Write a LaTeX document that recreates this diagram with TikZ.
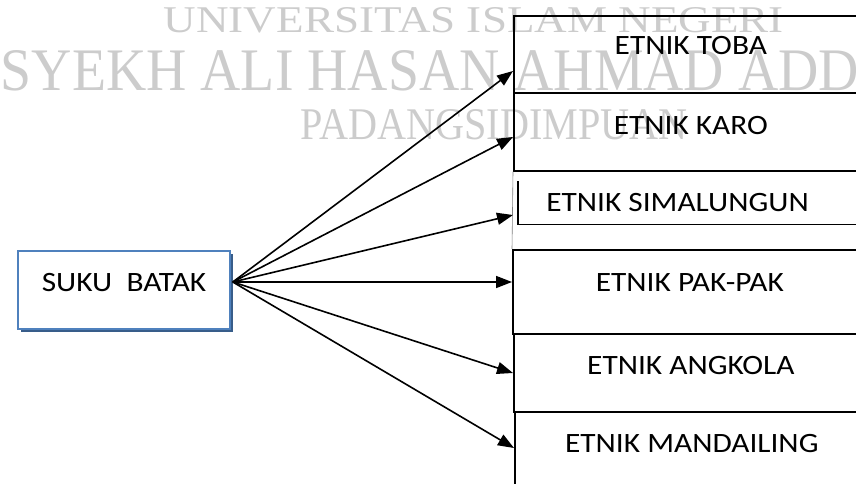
\documentclass[tikz,border=0pt]{standalone}
\usepackage{fontspec}
\setmainfont{Carlito}[FakeStretch=1.12]
\newfontfamily\wmfont{Liberation Serif}
\usepackage{tikz}
\usetikzlibrary{arrows.meta,positioning,shadows,calc}

\definecolor{boxblue}{RGB}{79,129,189}
\definecolor{shadeblue}{RGB}{56,93,138}
\definecolor{markgray}{RGB}{204,204,204}

\begin{document}
\begin{tikzpicture}[x=1pt,y=-1pt,->,>={Triangle[length=16pt,width=12pt]},line width=1.6pt,
                main node/.style={rectangle,draw=boxblue,fill=white,line width=1.6pt,minimum width=212pt,
                  minimum height=78pt,inner sep=0pt,font=\fontsize{28}{30}\selectfont,
                  drop shadow={shadow xshift=3pt,shadow yshift=-3pt,fill=shadeblue,opacity=1}},
                etnik node/.style={rectangle,draw,line width=1.6pt,minimum width=354pt,inner sep=0pt,
                  anchor=north west,font=\fontsize{28}{30}\selectfont},
                wm text/.style={anchor=north west,inner sep=0pt,text=markgray,font=\wmfont}]
  \useasboundingbox (0,0) rectangle (856,484);
  \clip (0,0) rectangle (856,484);

  % watermark
  \node[wm text] (w1) at (163,7) {\resizebox{620pt}{25pt}{UNIVERSITAS ISLAM NEGERI}};
  \node[wm text] (w2) at (0,50) {\resizebox{973pt}{40pt}{SYEKH ALI HASAN AHMAD ADDARY}};
  \node[wm text] (w3) at (300,109) {\resizebox{387pt}{30pt}{PADANGSIDIMPUAN}};

  \node[main node,text depth=16pt] (0) at (124,290) {SUKU\ \ BATAK};

  \node[etnik node,text height=39pt,text depth=38pt] (1) at (513,15) {ETNIK TOBA};
  \node[etnik node,text height=42pt,text depth=36pt] (2) at (513,92) {ETNIK KARO};
  \node[etnik node,draw=none,text width=299pt,align=flush left,inner xsep=17pt,
        text height=30pt,text depth=12pt] (3) at (518,181) {ETNIK SIMALUNGUN};
  \node[etnik node,text height=42pt,text depth=42pt] (4) at (512,249) {ETNIK PAK-PAK};
  \node[etnik node,text height=41pt,text depth=37pt] (5) at (513,333) {ETNIK ANGKOLA};
  \node[etnik node,text height=41pt,text depth=40pt] (6) at (514,411) {ETNIK MANDAILING};

  \draw[-,line width=1.6pt] (3.north west) |- (3.south east);
  \draw[-,line width=0.6pt,gray] (2.south west) -- (4.north west);

  \coordinate (h) at ([xshift=2pt,yshift=8pt]0.east);
  \path
    (h) edge (1.west |- 0,71)
    (h) edge (2.west |- 0,137)
    (h) edge (2.west |- 0,215)
    (h) edge (4.west |- 0,282)
    (h) edge (5.west |- 0,373)
    (h) edge (6.west |- 0,448)
  ;
\end{tikzpicture}
\end{document}
